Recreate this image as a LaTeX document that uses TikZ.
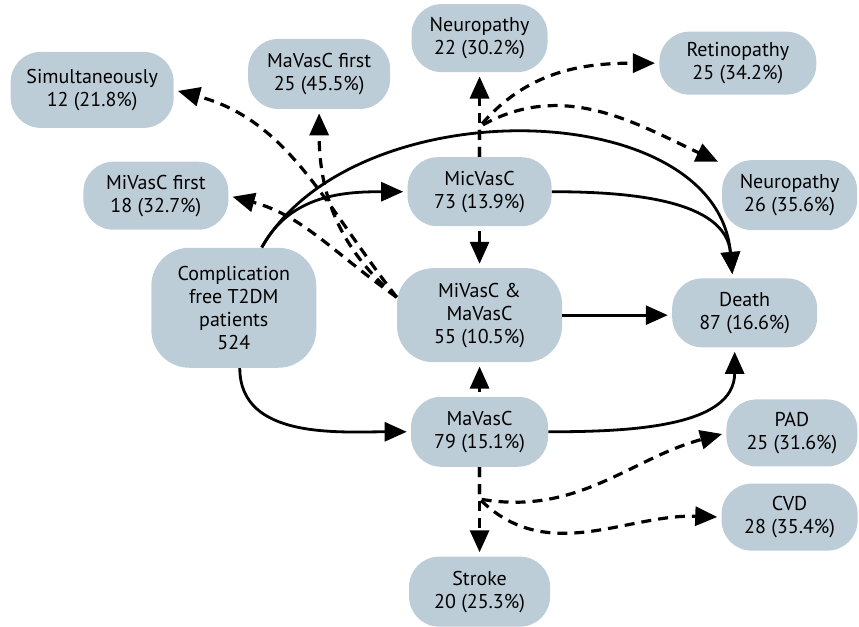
\documentclass[tikz,border=0pt]{standalone}
\usepackage{fontspec}
\setmainfont{PT Sans}
\usepackage{xcolor}
\usepackage{tikz}
\usetikzlibrary{arrows.meta}
\definecolor{boxfill}{RGB}{189,205,216}

\begin{document}
\begin{tikzpicture}[
  font=\fontsize{10}{11.5}\selectfont,
  st/.style={fill=boxfill, rounded corners=15pt, align=center, inner sep=0pt,
    minimum width=70pt, minimum height=34.5pt},
  sol/.style={-{Triangle[length=11pt,width=9.5pt]}, line width=1.4pt, shorten >=2pt},
  dsh/.style={sol, line width=1.6pt, dash pattern=on 5pt off 3.5pt},
]
\useasboundingbox (0,0) rectangle (15.10,-11.02);
\node[st, minimum width=81.5pt, minimum height=38pt] (simult) at (1.62,-1.58) {Simultaneously\\12 (21.8\%)};
\node[st, minimum width=71pt, minimum height=35pt] (mafirst) at (5.61,-1.30) {MaVasC first\\25 (45.5\%)};
\node[st, minimum width=68pt, minimum height=34pt] (neuro1) at (8.43,-0.67) {Neuropathy\\22 (30.2\%)};
\node[st, minimum width=78.5pt, minimum height=31.5pt] (retino) at (12.97,-1.11) {Retinopathy\\25 (34.2\%)};
\node[st, minimum width=72.5pt, minimum height=34pt] (mifirst) at (2.74,-3.44) {MiVasC first\\18 (32.7\%)};
\node[st, minimum width=72pt] (micvasc) at (8.43,-3.37) {MicVasC\\73 (13.9\%)};
\node[st, minimum width=67.5pt, minimum height=35pt] (neuro2) at (13.88,-3.43) {Neuropathy\\26 (35.6\%)};
\node[st, minimum width=82.5pt, minimum height=60pt, rounded corners=19pt] (compl) at (4.11,-5.41) {Complication\\free T2DM\\patients\\524};
\node[st, minimum width=82.5pt, minimum height=47pt, rounded corners=18pt] (both) at (8.43,-5.54) {MiVasC \&\\MaVasC\\55 (10.5\%)};
\node[st, minimum width=72.5pt] (death) at (13.09,-5.50) {Death\\87 (16.6\%)};
\node[st, minimum width=68.5pt, minimum height=35pt] (mavasc) at (8.43,-7.59) {MaVasC\\79 (15.1\%)};
\node[st, minimum width=65.5pt, minimum height=33.5pt] (pad) at (13.92,-7.61) {PAD\\25 (31.6\%)};
\node[st, minimum width=68pt, minimum height=33.5pt] (cvd) at (13.88,-9.09) {CVD\\28 (35.4\%)};
\node[st, minimum width=70.5pt, minimum height=35pt] (stroke) at (8.43,-10.40) {Stroke\\20 (25.3\%)};

\draw[sol] ([xshift=14pt]compl.north) to[out=62,in=180] (micvasc.west);
\draw[sol] ([xshift=14pt]compl.north) to[out=60,in=95] ([xshift=-6pt]death.north);
\draw[sol] (micvasc.east) to[out=0,in=95] ([xshift=-6pt]death.north);
\draw[sol] (both.east) -- (both.east -| death.west);
\draw[sol] (mavasc.east) to[out=0,in=-90] ([xshift=-5pt]death.south);
\draw[sol] ([xshift=3pt]compl.south) to[out=-90,in=180] (mavasc.west);
\draw[sol, shorten <=2pt] (micvasc.south) -- (both.north);
\draw[sol, shorten <=2pt] (mavasc.north) -- (both.south);

\draw[dsh] ([yshift=9pt]both.west) to[out=145,in=-15] (mifirst.east);
\draw[dsh] ([yshift=9pt]both.west) to[out=128,in=-15] (simult.east);
\draw[dsh] ([yshift=9pt]both.west) to[out=140,in=-90] (mafirst.south);
\draw[dsh] (micvasc.north) -- (neuro1.south);
\draw[dsh] (micvasc.north) -- ++(0,0.53) to[out=50,in=180] (retino.west);
\draw[dsh] (micvasc.north) -- ++(0,0.53) to[out=30,in=155] (neuro2);
\draw[dsh] (mavasc.south) -- (stroke.north);
\draw[dsh] (mavasc.south) -- ++(0,-0.56) to[out=-10,in=195] (pad.west);
\draw[dsh] (mavasc.south) -- ++(0,-0.56) to[out=-45,in=178] (cvd.west);
\end{tikzpicture}
\end{document}
